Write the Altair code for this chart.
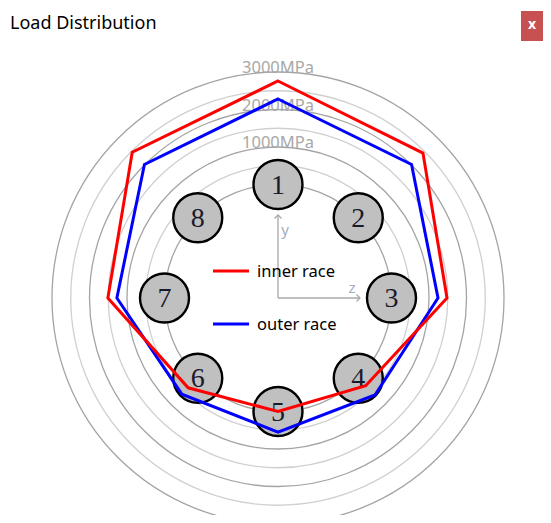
import altair as alt
import pandas as pd

# ---- data ----
balls = [1, 2, 3, 4, 5, 6, 7, 8]                          # clockwise from top
inner_race = [2760, 2440, 1480, 280, 0, 360, 1510, 2470]  # MPa
outer_race = [2280, 2010, 1240, 630, 550, 600, 1270, 2010]  # MPa
ring_loads = [0, 500, 1000, 1500, 2000, 2500, 3000]
label_loads = [1000, 2000, 3000]

# ---- radial scale (pixels): r = PITCH + PX_PER_MPA * load ----
PITCH = 113.5
PX_PER_MPA = 0.0375

W, H = 535, 507
CX, CY = 270, 290  # centre of the bearing in plot pixels

xs = alt.Scale(domain=[-CX, W - CX], nice=False, zero=False)
ys = alt.Scale(domain=[CY - H, CY], nice=False, zero=False)
X = alt.X("x:Q", scale=xs, axis=None)
Y = alt.Y("y:Q", scale=ys, axis=None)

ANG = "PI / 2 - (datum.ball - 1) * PI / 4"

load_df = pd.DataFrame({
    "ball": balls * 2,
    "load": inner_race + outer_race,
    "race": ["inner race"] * len(balls) + ["outer race"] * len(balls),
})


def polar(ch):
    return ch.transform_calculate(
        ang=ANG, r=f"{PITCH} + {PX_PER_MPA} * datum.load"
    ).transform_calculate(
        x="datum.r * cos(datum.ang)", y="datum.r * sin(datum.ang)"
    )


one = pd.DataFrame({"a": [0]})

rings = alt.Chart(pd.DataFrame({"load": ring_loads})).transform_calculate(
    d=f"2 * ({PITCH} + {PX_PER_MPA} * datum.load)",
    x="0", y="0",
    col="datum.load % 1000 == 0 ? '#a4a4a4' : '#d0d0d0'",
).transform_calculate(size="datum.d * datum.d").mark_point(
    shape="circle", filled=False, strokeWidth=1.3, opacity=1
).encode(
    x=X, y=Y,
    size=alt.Size("size:Q", scale=None, legend=None),
    stroke=alt.Stroke("col:N", scale=None, legend=None),
)

gray = "#a8a8a8"
y_axis = alt.Chart(one).mark_rule(color=gray, strokeWidth=1.3).encode(
    x=alt.value(CX), y=alt.value(CY), y2=alt.value(CY - 83))
z_axis = alt.Chart(one).mark_rule(color=gray, strokeWidth=1.3).encode(
    x=alt.value(CX), x2=alt.value(CX + 82), y=alt.value(CY))
y_head = alt.Chart(one).mark_point(
    shape="M-1,1L0,0L1,1", filled=False, stroke=gray, strokeWidth=1.3, size=49, opacity=1
).encode(x=alt.value(CX), y=alt.value(CY - 83))
z_head = alt.Chart(one).mark_point(
    shape="M-1,-1L0,0L-1,1", filled=False, stroke=gray, strokeWidth=1.3, size=49, opacity=1
).encode(x=alt.value(CX + 82), y=alt.value(CY))
y_lab = alt.Chart(one).mark_text(text="y", font="Noto Sans", fontSize=15, color="#a4acc0").encode(
    x=alt.value(CX + 7), y=alt.value(CY - 68))
z_lab = alt.Chart(one).mark_text(text="z", font="Noto Sans", fontSize=15, color="#a4acc0").encode(
    x=alt.value(CX + 74), y=alt.value(CY - 10))

ball_df = pd.DataFrame({"ball": balls, "load": [0] * len(balls)})
ball_marks = polar(alt.Chart(ball_df)).mark_point(
    shape="circle", filled=True, fill="#c0c0c0", stroke="#000000",
    strokeWidth=2.4, size=2401, opacity=1
).encode(x=X, y=Y)
ball_nums = polar(alt.Chart(ball_df)).mark_text(
    font="Liberation Serif", fontSize=28, color="#1a1a2a", baseline="middle", dy=1
).encode(x=X, y=Y, text="ball:N")

tick_labels = alt.Chart(pd.DataFrame({"load": label_loads})).transform_calculate(
    x="0", y=f"{PITCH} + {PX_PER_MPA} * datum.load", txt="datum.load + 'MPa'"
).mark_text(
    baseline="alphabetic", dy=1, font="Noto Sans", fontSize=16.5, color="#a8a8a8"
).encode(x=X, y=Y, text="txt:N")

outer_line = polar(alt.Chart(load_df)).transform_filter(
    "datum.race == 'outer race'"
).mark_line(interpolate="linear-closed", color="#0000ff", strokeWidth=3).encode(
    x=X, y=Y, order="ball:Q")
inner_line = polar(alt.Chart(load_df)).transform_filter(
    "datum.race == 'inner race'"
).mark_line(interpolate="linear-closed", color="#ff0000", strokeWidth=3).encode(
    x=X, y=Y, order="ball:Q")

leg_red = alt.Chart(one).mark_rule(color="#ff0000", strokeWidth=3).encode(
    x=alt.value(205), x2=alt.value(241), y=alt.value(263))
leg_blue = alt.Chart(one).mark_rule(color="#0000ff", strokeWidth=3).encode(
    x=alt.value(205), x2=alt.value(241), y=alt.value(316))
leg_t1 = alt.Chart(one).mark_text(
    text="inner race", align="left", baseline="middle", font="Noto Sans", fontSize=16.5, color="#000"
).encode(x=alt.value(249), y=alt.value(264))
leg_t2 = alt.Chart(one).mark_text(
    text="outer race", align="left", baseline="middle", font="Noto Sans", fontSize=16.5, color="#000"
).encode(x=alt.value(249), y=alt.value(317))

title = alt.Chart(one).mark_text(
    text="Load Distribution", align="left", baseline="alphabetic",
    font="Noto Sans", fontSize=18, color="#000"
).encode(x=alt.value(2), y=alt.value(21))
close_box = alt.Chart(one).mark_rect(color="#c75050").encode(
    x=alt.value(513), x2=alt.value(535), y=alt.value(3), y2=alt.value(33))
close_x = alt.Chart(one).mark_text(
    text="x", font="Noto Sans", fontSize=14, fontWeight="bold", color="#ffffff", baseline="middle"
).encode(x=alt.value(524), y=alt.value(17))

chart = alt.layer(
    rings, y_axis, z_axis, y_head, z_head, y_lab, z_lab,
    ball_marks, ball_nums, tick_labels, outer_line, inner_line,
    leg_red, leg_blue, leg_t1, leg_t2, title, close_box, close_x,
).properties(
    width=W, height=H, padding=0,
    autosize=alt.AutoSizeParams(type="none"),
    background="white",
).configure_view(stroke=None)

chart.save("out.html", embed_options={"renderer": "svg", "actions": False})
